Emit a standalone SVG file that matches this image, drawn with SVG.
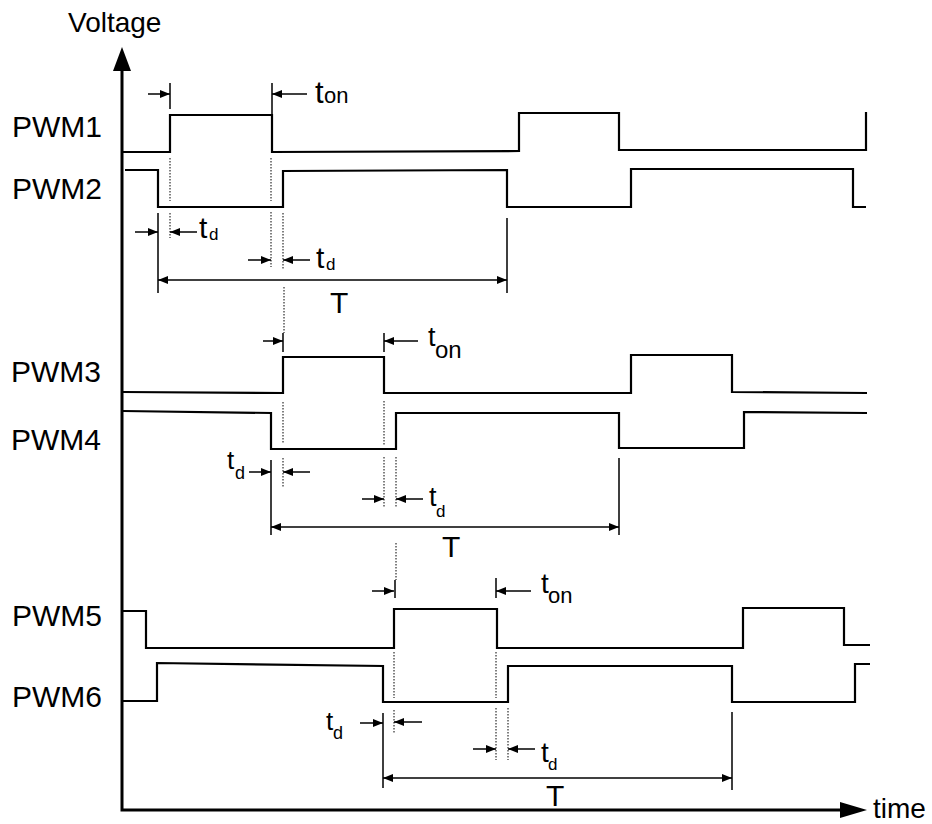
<svg xmlns="http://www.w3.org/2000/svg" width="932" height="824" viewBox="0 0 932 824">
<style>
text{font-family:"Liberation Sans",Arial,sans-serif;fill:#000}
.lbl{font-size:30px}
.wave{fill:none;stroke:#000;stroke-width:2.2;stroke-linejoin:miter}
.axis{fill:none;stroke:#000;stroke-width:3}
.dot{fill:none;stroke:#000;stroke-width:1;stroke-dasharray:1.5,1.5}
.tick{fill:none;stroke:#000;stroke-width:1.5}
.arr{fill:none;stroke:#000;stroke-width:1.5;marker-end:url(#ah)}
.dbl{fill:none;stroke:#000;stroke-width:1.5;marker-end:url(#ah);marker-start:url(#ah)}
</style>
<defs>
<marker id="ah" markerUnits="userSpaceOnUse" markerWidth="10" markerHeight="8" refX="10" refY="4" orient="auto-start-reverse">
<path d="M0,0 L10,4 L0,8 z" fill="#000"/>
</marker>
</defs>
<rect width="932" height="824" fill="#fff"/>

<g id="axes">
<polyline class="axis" points="122,68 122,810 842,810"/>
<polygon points="122,47 113,71 131,71" fill="#000"/>
<polygon points="867,810 840,802 840,818" fill="#000"/>
<text x="68" y="32" font-size="28">Voltage</text>
<text x="873" y="818" font-size="28">time</text>
</g>

<g id="labels">
<text class="lbl" x="12" y="137">PWM1</text>
<text class="lbl" x="12" y="199">PWM2</text>
<text class="lbl" x="11" y="382">PWM3</text>
<text class="lbl" x="11" y="450">PWM4</text>
<text class="lbl" x="12" y="626">PWM5</text>
<text class="lbl" x="12" y="707">PWM6</text>
</g>

<g id="pwm1"><polyline class="wave" points="123,152 170,152 170,115 272,115 272,152 519,151 519,113 619,113 619,150 866,150 866,112"/></g>
<g id="pwm2"><polyline class="wave" points="125,170 158,170 158,207 283,207 283,171 507,170 507,207 631,207 631,169 853,169 853,207 866,207"/></g>
<g id="pwm3"><polyline class="wave" points="123,392 283,393 283,357 384,357 384,393 631,393 631,355 732,355 732,392 867,393"/></g>
<g id="pwm4"><polyline class="wave" points="123,411 271,413 271,449 396,449 396,413 619,413 619,448 744,448 744,412 867,413"/></g>
<g id="pwm5"><polyline class="wave" points="123,611 146,611 146,648 394,648 394,609 497,609 497,648 743,648 743,608 844,608 844,645 870,645"/></g>
<g id="pwm6"><polyline class="wave" points="123,701 157,701 157,663 383,666 383,702 508,702 508,666 732,666 732,702 855,702 855,664 870,664"/></g>

<g id="connectors">
<path class="dot" d="M170,158V201 M170,213V238 M271,158V201 M271,212V267 M283,213V270 M284,287V333"/>
<path class="dot" d="M283,402V443 M283,458V487 M384,401V445 M384,457V507 M396,457V507 M396,543V580"/>
<path class="dot" d="M394,652V698 M394,710V733 M496,652V698 M496,708V760 M508,708V760"/>
<path class="tick" d="M170,83V109 M272,83V114 M158,213V293 M507,218V293"/>
<path class="tick" d="M283,333V352 M384,333V352 M271,460V535 M619,458V535"/>
<path class="tick" d="M395,580V598 M496,578V598 M383,713V788 M732,712V790"/>
<line class="arr" x1="148" y1="94" x2="170" y2="94"/>
<line class="arr" x1="307" y1="94" x2="272" y2="94"/>
<line class="arr" x1="135" y1="232" x2="158" y2="232"/>
<line class="arr" x1="197" y1="232" x2="170" y2="232"/>
<line class="arr" x1="248" y1="260" x2="271" y2="260"/>
<line class="arr" x1="310" y1="260" x2="283" y2="260"/>
<line class="dbl" x1="158" y1="280" x2="507" y2="280"/>

<line class="arr" x1="263" y1="341" x2="283" y2="341"/>
<line class="arr" x1="418" y1="341" x2="384" y2="341"/>
<line class="arr" x1="249" y1="472" x2="271" y2="472"/>
<line class="arr" x1="310" y1="472" x2="283" y2="472"/>
<line class="arr" x1="362" y1="499" x2="384" y2="499"/>
<line class="arr" x1="423" y1="499" x2="396" y2="499"/>
<line class="dbl" x1="271" y1="527" x2="619" y2="527"/>

<line class="arr" x1="372" y1="591" x2="394" y2="591"/>
<line class="arr" x1="531" y1="591" x2="496" y2="591"/>
<line class="arr" x1="360" y1="723" x2="383" y2="723"/>
<line class="arr" x1="422" y1="722" x2="394" y2="722"/>
<line class="arr" x1="473" y1="749" x2="496" y2="749"/>
<line class="arr" x1="535" y1="749" x2="508" y2="749"/>
<line class="dbl" x1="383" y1="778" x2="732" y2="778"/>
</g>

<g id="annotations">
<text x="315" y="103" font-size="31">t</text><text x="324" y="103" font-size="22">on</text>
<text x="199" y="238" font-size="30">t</text><text x="209" y="240" font-size="17">d</text>
<text x="316" y="268" font-size="30">t</text><text x="326" y="270" font-size="17">d</text>
<text x="330" y="313" font-size="30">T</text>

<text x="428" y="346" font-size="27">t</text><text x="435" y="358" font-size="24">on</text>
<text x="227" y="469" font-size="26">t</text><text x="235" y="479" font-size="18">d</text>
<text x="429" y="506" font-size="27">t</text><text x="436" y="517" font-size="17">d</text>
<text x="442" y="557" font-size="30">T</text>

<text x="541" y="593" font-size="28">t</text><text x="548" y="603" font-size="22">on</text>
<text x="326" y="730" font-size="26">t</text><text x="333" y="739" font-size="18">d</text>
<text x="541" y="762" font-size="28">t</text><text x="548" y="770" font-size="17">d</text>
<text x="546" y="806" font-size="30">T</text>
</g>
</svg>
